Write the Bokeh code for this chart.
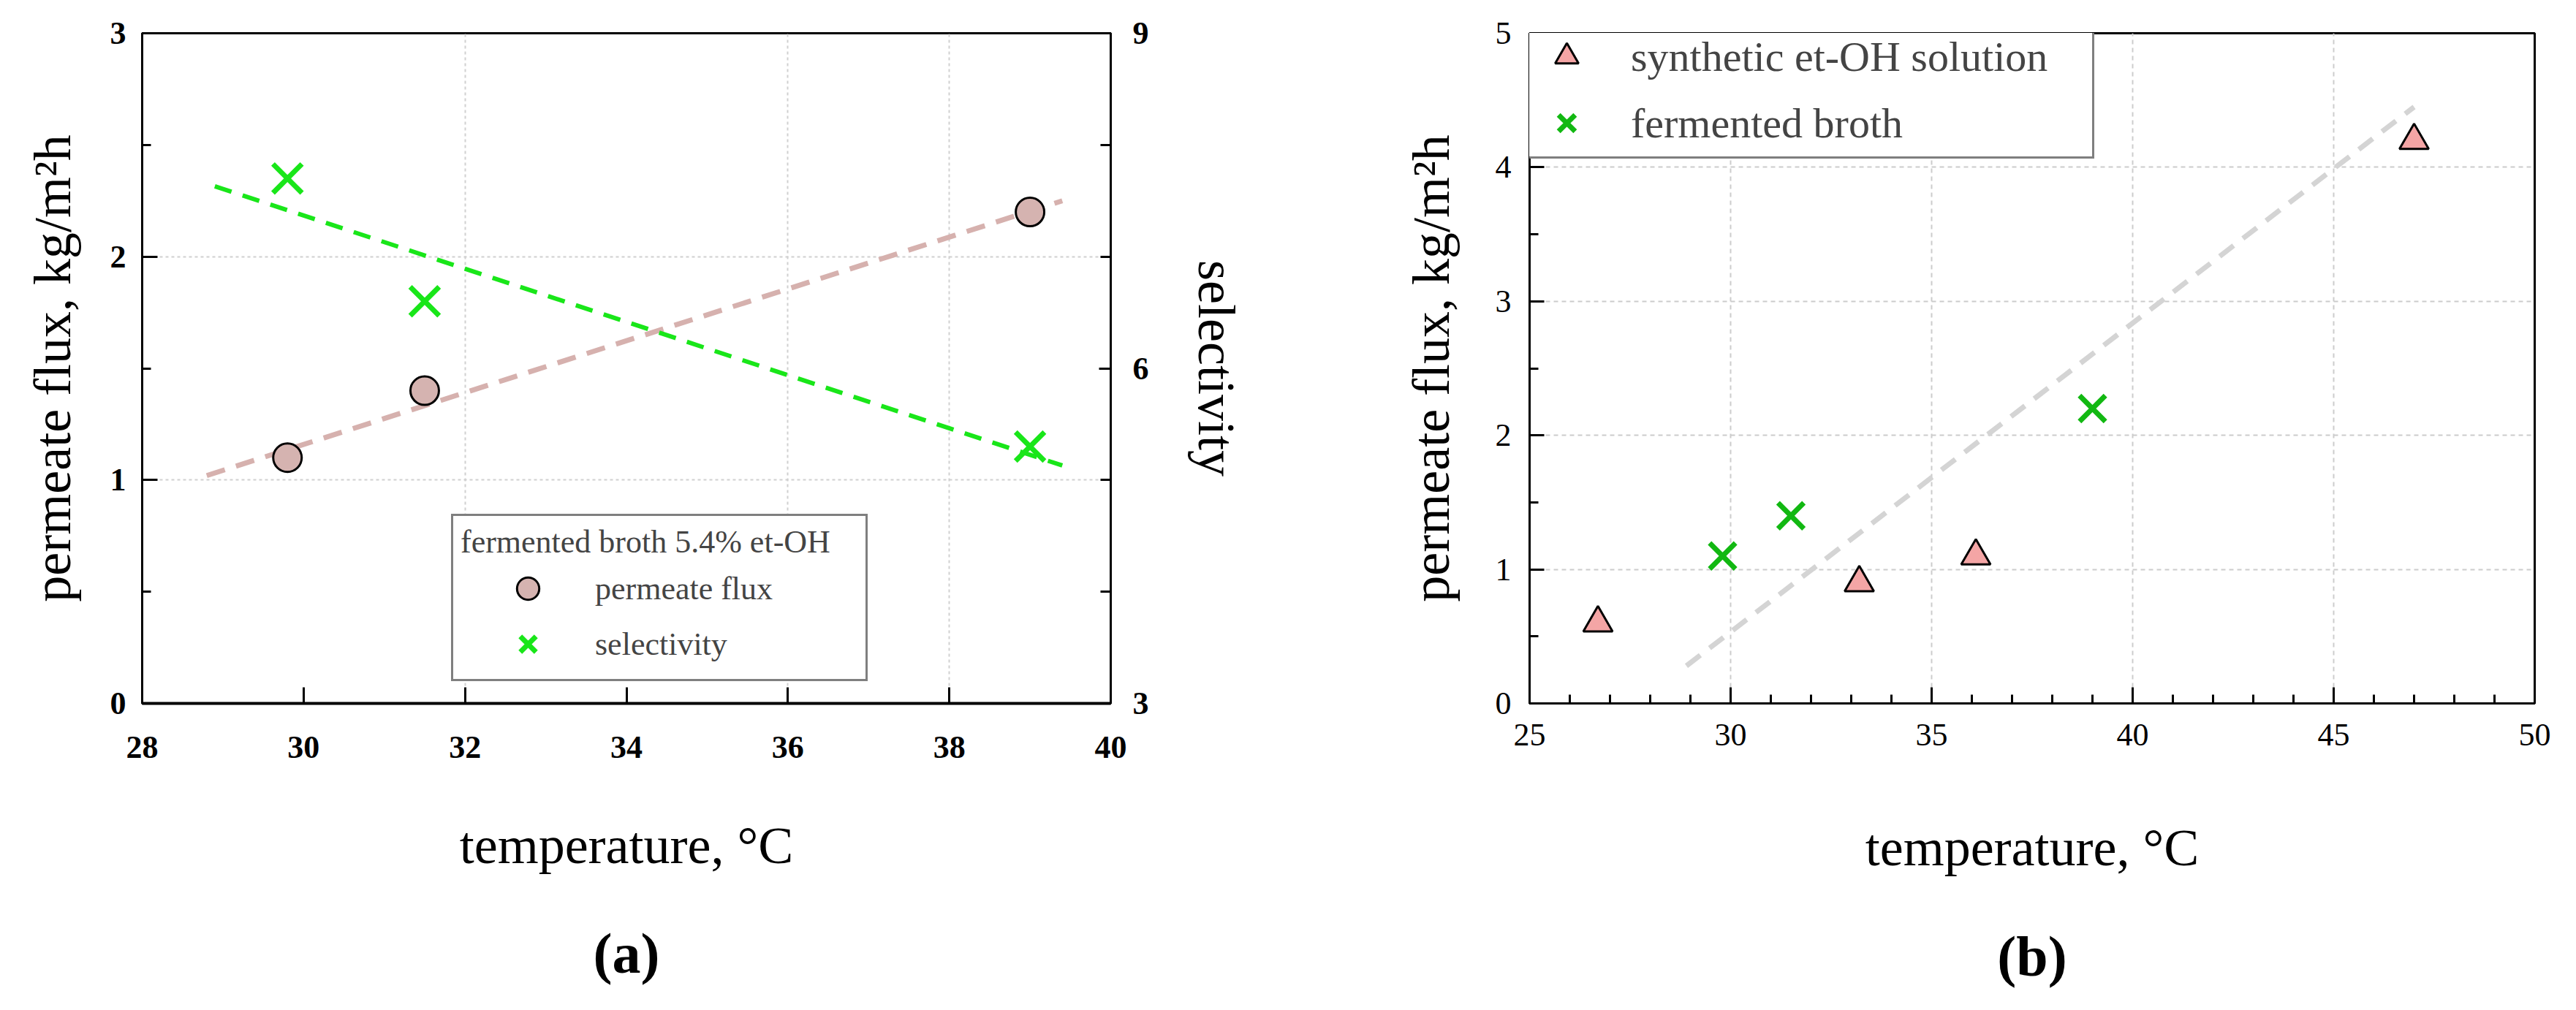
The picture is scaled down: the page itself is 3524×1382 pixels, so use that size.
from bokeh.plotting import figure
from bokeh.models import Range1d, LinearAxis, FixedTicker, Legend, LegendItem
from bokeh.layouts import row
from bokeh.embed import file_html
from bokeh.resources import INLINE

# ---------------- data ----------------
temp_ferm = [29.8, 31.5, 39.0]
flux_ferm = [1.1, 1.4, 2.2]
sel_ferm = [7.7, 6.6, 5.3]

temp_syn = [26.7, 33.2, 36.1, 47.0]
flux_syn = [0.6, 0.9, 1.1, 4.2]

flux_trend_t = [28.8, 39.4]
flux_trend_v = [1.02, 2.25]
sel_trend_t = [28.9, 39.4]
sel_trend_v = [7.63, 5.13]
syn_trend_t = [28.9, 47.0]
syn_trend_v = [0.28, 4.45]

xticks_a = [28, 30, 32, 34, 36, 38, 40]
yticks_a = [0, 1, 2, 3]
yminor_a = [0.5, 1.5, 2.5]
sel_ticks = [3, 6, 9]
sel_minor = [4, 5, 7, 8]
xgrid_a = [32, 36, 38]
ygrid_a = [1, 2]

xticks_b = [25, 30, 35, 40, 45, 50]
xminor_b = [v for v in range(26, 50) if v % 5 != 0]
yticks_b = [0, 1, 2, 3, 4, 5]
yminor_b = [0.5, 1.5, 2.5, 3.5, 4.5]

SERIF = "Liberation Serif"
FLUX_LABEL = "permeate flux, kg/m\u00b2h"
TEMP_LABEL = "temperature, \u00b0C"

c_circle = "#d5b3b0"
c_trend_a = "#d6b1ae"
c_green_a = "#19e619"
c_green_b = "#12b812"
c_tri = "#f4a5a5"
c_trend_b = "#d4d4d4"


def style_axis(ax, tick_in=22, minor_in=12, line_w=3, standoff=22, label_standoff=30,
               tick_style="bold", tick_size="44px"):
    ax.major_label_text_font = SERIF
    ax.major_label_text_font_style = tick_style
    ax.major_label_text_font_size = tick_size
    ax.major_label_text_color = "black"
    ax.major_label_standoff = standoff
    ax.axis_label_text_font = SERIF
    ax.axis_label_text_font_style = "normal"
    ax.axis_label_text_font_size = "72px"
    ax.axis_label_text_color = "black"
    ax.axis_label_standoff = label_standoff
    ax.axis_line_color = "black"
    ax.axis_line_width = line_w
    ax.major_tick_out = 0
    ax.major_tick_in = tick_in
    ax.minor_tick_out = 0
    ax.minor_tick_in = minor_in
    ax.major_tick_line_width = 3
    ax.minor_tick_line_width = 3
    ax.major_tick_line_color = "black"
    ax.minor_tick_line_color = "black"


def caption_axis(p, text, standoff):
    ax = LinearAxis(ticker=FixedTicker(ticks=[]), axis_label=text)
    ax.axis_line_color = None
    ax.major_tick_line_color = None
    ax.minor_tick_line_color = None
    ax.major_tick_out = 0
    ax.major_label_standoff = 0
    ax.major_label_text_font_size = "0px"
    ax.axis_label_text_font = SERIF
    ax.axis_label_text_font_style = "bold"
    ax.axis_label_text_font_size = "78px"
    ax.axis_label_text_color = "black"
    ax.axis_label_standoff = standoff
    p.add_layout(ax, "below")


# ---------------- panel (a) ----------------
p1 = figure(width=1760, height=1366, output_backend="svg", toolbar_location=None,
            x_range=Range1d(28, 40), y_range=Range1d(0, 3),
            min_border_left=194, min_border_right=241, min_border_top=43, min_border_bottom=398)
p1.background_fill_color = "white"
p1.border_fill_color = "white"
p1.outline_line_color = "black"
p1.outline_line_width = 3
p1.extra_y_ranges = {"sel": Range1d(3, 9)}

p1.xaxis[0].ticker = FixedTicker(ticks=xticks_a)
p1.xaxis[0].axis_label = TEMP_LABEL
style_axis(p1.xaxis[0], tick_in=22, line_w=4, standoff=45, label_standoff=77)
p1.yaxis[0].ticker = FixedTicker(ticks=yticks_a, minor_ticks=yminor_a)
p1.yaxis[0].axis_label = FLUX_LABEL
style_axis(p1.yaxis[0], tick_in=21, minor_in=12, standoff=22, label_standoff=36)

ax_sel = LinearAxis(y_range_name="sel", axis_label="selectivity",
                    ticker=FixedTicker(ticks=sel_ticks, minor_ticks=sel_minor))
style_axis(ax_sel, tick_in=16, minor_in=14, standoff=30, label_standoff=49)
p1.add_layout(ax_sel, "right")
caption_axis(p1, "(a)", 61)

g = p1.xgrid[0]
g.ticker = FixedTicker(ticks=xgrid_a)
g.grid_line_color = "#d0d0d0"
g.grid_line_width = 2
g.grid_line_dash = "4 4"
g = p1.ygrid[0]
g.ticker = FixedTicker(ticks=ygrid_a)
g.grid_line_color = "#d0d0d0"
g.grid_line_width = 2
g.grid_line_dash = "4 4"

p1.line(flux_trend_t, flux_trend_v, line_color=c_trend_a, line_width=7, line_dash="26 16")
p1.line(sel_trend_t, sel_trend_v, y_range_name="sel", line_color=c_green_a,
        line_width=6, line_dash="24 16")
r_circ = p1.scatter(temp_ferm, flux_ferm, marker="circle", size=39, fill_color=c_circle,
                    line_color="black", line_width=3)
r_x = p1.scatter(temp_ferm, sel_ferm, y_range_name="sel", marker="x", size=56,
                 line_color=c_green_a, line_width=7)

leg1 = Legend(items=[LegendItem(label="permeate flux", renderers=[r_circ]),
                     LegendItem(label="selectivity", renderers=[r_x])],
              location=(423, 30), title="fermented broth 5.4% et-OH")
leg1.title_text_font = SERIF
leg1.title_text_font_style = "normal"
leg1.title_text_font_size = "44px"
leg1.title_standoff = -10
leg1.label_text_font = SERIF
leg1.label_text_font_size = "44px"
leg1.border_line_color = "black"
leg1.border_line_width = 3
leg1.background_fill_color = "white"
leg1.background_fill_alpha = 1
leg1.padding = 10
leg1.spacing = 0
leg1.margin = 0
leg1.glyph_width = 184
leg1.glyph_height = 76
leg1.label_standoff = 0
leg1.label_width = 360
p1.add_layout(leg1)

# ---------------- panel (b) ----------------
p2 = figure(width=1748, height=1366, output_backend="svg", toolbar_location=None,
            x_range=Range1d(25, 50), y_range=Range1d(0, 5),
            min_border_left=332, min_border_right=41, min_border_top=45, min_border_bottom=404)
p2.background_fill_color = "white"
p2.border_fill_color = "white"
p2.outline_line_color = "black"
p2.outline_line_width = 3

p2.xaxis[0].ticker = FixedTicker(ticks=xticks_b, minor_ticks=xminor_b)
p2.xaxis[0].axis_label = TEMP_LABEL
style_axis(p2.xaxis[0], tick_in=22, minor_in=12, line_w=3, standoff=28, label_standoff=97,
           tick_style="normal")
p2.yaxis[0].ticker = FixedTicker(ticks=yticks_b, minor_ticks=yminor_b)
p2.yaxis[0].axis_label = FLUX_LABEL
style_axis(p2.yaxis[0], tick_in=20, minor_in=12, standoff=25, label_standoff=45,
           tick_style="normal")
caption_axis(p2, "(b)", 62)

for g in (p2.xgrid[0], p2.ygrid[0]):
    g.grid_line_color = "#cccccc"
    g.grid_line_width = 2
    g.grid_line_dash = "6 5"

p2.line(syn_trend_t, syn_trend_v, line_color=c_trend_b, line_width=7, line_dash="24 16")
r_tri = p2.scatter(temp_syn, flux_syn, marker="triangle", size=40, fill_color=c_tri,
                   line_color="black", line_width=3)
r_x2 = p2.scatter(temp_ferm, flux_ferm, marker="x", size=50, line_color=c_green_b, line_width=7)

leg2 = Legend(items=[LegendItem(label="synthetic et-OH solution", renderers=[r_tri]),
                     LegendItem(label="fermented broth", renderers=[r_x2])],
              location=(-12, 745))
leg2.label_text_font = SERIF
leg2.label_text_font_size = "58px"
leg2.border_line_color = "black"
leg2.border_line_width = 3
leg2.background_fill_color = "white"
leg2.background_fill_alpha = 1
leg2.padding = 6
leg2.spacing = 11
leg2.margin = 0
leg2.glyph_width = 108
leg2.glyph_height = 80
leg2.label_standoff = 34
leg2.label_width = 625
p2.add_layout(leg2)

layout = row(p1, p2)
open("out.html", "w").write(file_html(layout, INLINE))
